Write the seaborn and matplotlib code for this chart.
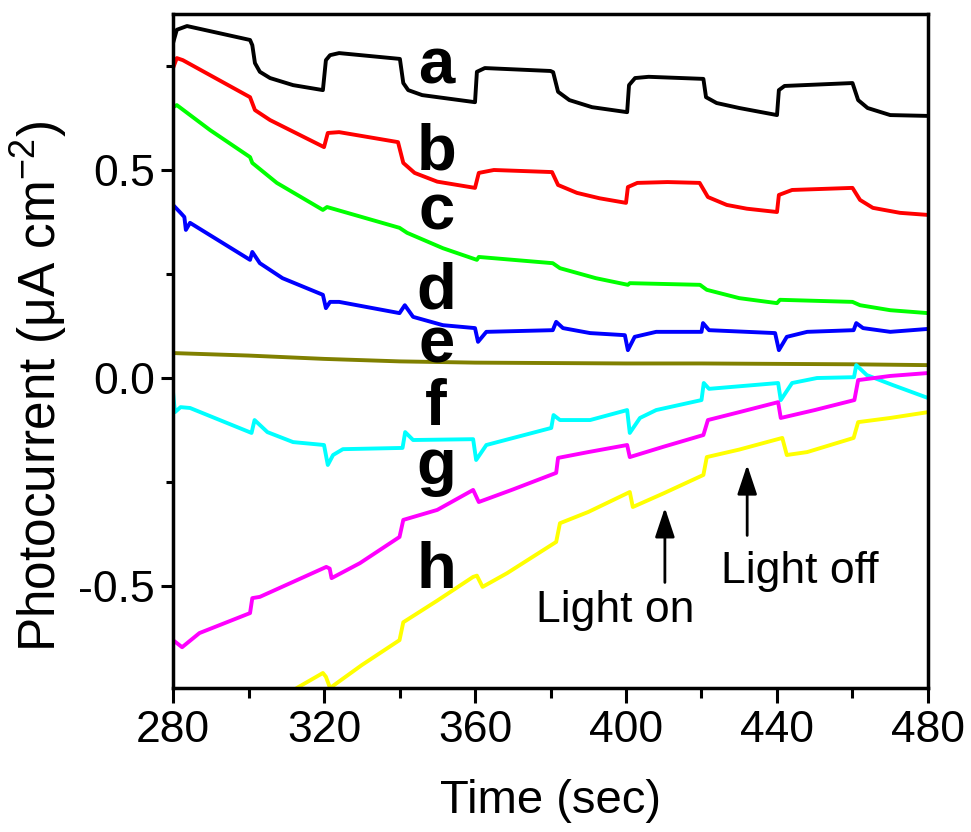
import matplotlib
matplotlib.use("Agg")
import matplotlib.pyplot as plt
from matplotlib.ticker import MultipleLocator
import seaborn as sns

# photocurrent transients, light chopped every 20 s
a_t = [280, 281, 283.7, 300.4, 301, 301.7, 303, 305.7, 311.8, 319.7, 320.5, 321.6, 324, 340.1, 341, 342.3, 346, 360,
       360.5, 362.6, 380, 380.7, 382, 385, 391, 400.3, 400.8, 402.4, 406, 420.5, 421.2, 424, 430, 440,
       440.5, 442, 460, 461.5, 464, 470, 480]
a_v = [0.805, 0.837, 0.846, 0.8125, 0.80, 0.757, 0.736, 0.721, 0.704, 0.692, 0.764, 0.776, 0.781, 0.767, 0.709, 0.692, 0.680, 0.663,
       0.736, 0.745, 0.738, 0.735, 0.688, 0.668, 0.651, 0.639, 0.704, 0.721, 0.724, 0.719, 0.675, 0.661, 0.649, 0.632,
       0.692, 0.702, 0.709, 0.668, 0.649, 0.632, 0.630]

b_t = [280, 281, 282.6, 300.4, 301.7, 305.7, 320, 321, 324, 339.6, 341, 344, 350, 360, 361, 365, 380.4, 382, 387, 393,
       400, 400.5, 403, 411, 419.5, 421.7, 426.7, 432, 440, 440.5, 444, 460, 462, 465.4, 472.6, 480]
b_v = [0.745, 0.769, 0.764, 0.675, 0.644, 0.620, 0.555, 0.589, 0.591, 0.567, 0.517, 0.493, 0.472, 0.457, 0.493, 0.5, 0.495, 0.464, 0.445, 0.432,
       0.421, 0.459, 0.469, 0.471, 0.469, 0.435, 0.416, 0.407, 0.399, 0.44, 0.452, 0.457, 0.428, 0.409, 0.397, 0.392]

c_t = [280, 281, 289.8, 300.4, 301, 307.5, 319.7, 320.8, 340, 342, 351.5, 360.5, 361, 380.6, 382.5, 392, 400.5, 401,
       419.6, 421.4, 430, 440, 440.8, 460, 462, 470, 480]
c_v = [0.651, 0.656, 0.596, 0.531, 0.517, 0.469, 0.404, 0.411, 0.361, 0.349, 0.312, 0.284, 0.291, 0.276, 0.264, 0.240, 0.224, 0.228,
       0.224, 0.212, 0.192, 0.180, 0.188, 0.183, 0.175, 0.163, 0.156]

d_t = [280, 282, 283, 283.4, 284.5, 300.4, 301, 303, 309, 319.7, 320.5, 321.6, 324, 340, 341.4, 343.6, 351.5, 360, 360.8, 363,
       380.6, 381.5, 383.3, 390.5, 399.7, 400.5, 402.3, 408, 420, 420.4, 422, 439.5, 440.5, 442.6, 448, 460.3, 461, 462.8, 470, 480]
d_v = [0.416, 0.397, 0.387, 0.356, 0.373, 0.284, 0.303, 0.276, 0.240, 0.20, 0.168, 0.183, 0.183, 0.156, 0.175, 0.147, 0.127, 0.120, 0.087, 0.111,
       0.115, 0.135, 0.120, 0.108, 0.103, 0.067, 0.099, 0.111, 0.111, 0.132, 0.115, 0.108, 0.067, 0.099, 0.111, 0.115, 0.132, 0.120, 0.111, 0.118]

e_t = [280, 300, 320, 340, 360, 380, 400, 420, 440, 460, 480]
e_v = [0.060, 0.054, 0.046, 0.040, 0.037, 0.036, 0.035, 0.035, 0.034, 0.033, 0.031]

f_t = [280, 280.5, 282, 284.5, 300.8, 301.6, 305, 311.8, 320, 321, 322.4, 325, 340.8, 341.5, 343.6, 359.5, 360.3, 363, 380.2, 380.8,
       382.5, 390.5, 400.3, 401, 403.7, 408, 420, 420.6, 422, 440.3, 441, 444, 450.6, 460.4, 461, 463.8, 470.7, 480]
f_v = [-0.034, -0.082, -0.070, -0.072, -0.132, -0.101, -0.130, -0.154, -0.161, -0.209, -0.185, -0.171, -0.168, -0.130, -0.149, -0.147, -0.197, -0.161, -0.120, -0.089,
       -0.101, -0.101, -0.077, -0.132, -0.096, -0.077, -0.053, -0.012, -0.026, -0.012, -0.053, -0.012, 0.0, 0.002, 0.031, 0.007, -0.017, -0.048]

g_t = [280, 282.4, 287, 300.4, 301, 303, 320.6, 321.5, 322, 329.5, 340, 341, 350, 359.5, 361, 370, 381.5, 382, 390, 400.3,
       401, 410, 420.5, 421.7, 430, 440.3, 441, 450, 460.5, 461.5, 470, 480]
g_v = [-0.630, -0.647, -0.613, -0.565, -0.529, -0.526, -0.454, -0.458, -0.481, -0.445, -0.382, -0.341, -0.317, -0.269, -0.298, -0.268, -0.228, -0.192, -0.178, -0.161,
       -0.190, -0.165, -0.137, -0.101, -0.082, -0.058, -0.096, -0.077, -0.053, -0.005, 0.005, 0.012]

h_t = [308, 312.8, 319.7, 320.5, 321.6, 330, 340, 341, 350, 359.5, 360.5, 362, 368.5, 381.5, 382.5, 390, 401, 401.8, 410, 420.5,
       421.4, 430, 441.4, 442.6, 448, 460.3, 461.5, 470, 480]
h_v = [-0.78, -0.745, -0.709, -0.718, -0.745, -0.690, -0.630, -0.587, -0.535, -0.478, -0.475, -0.502, -0.469, -0.394, -0.349, -0.322, -0.274, -0.310, -0.277, -0.233,
       -0.190, -0.172, -0.144, -0.185, -0.178, -0.144, -0.106, -0.096, -0.082]

names = ['a', 'b', 'c', 'd', 'e', 'f', 'g', 'h']
colors = ['black', '#ff0000', '#00ff00', '#0000ff', '#808000', '#00ffff', '#ff00ff', '#ffff00']
series = [(a_t, a_v), (b_t, b_v), (c_t, c_v), (d_t, d_v), (e_t, e_v), (f_t, f_v), (g_t, g_v), (h_t, h_v)]
# where the letters sit (baseline, in data units)
label_x = 349.7
label_y = [0.709, 0.50, 0.356, 0.168, 0.038, -0.113, -0.255, -0.505]

sns.set_style("ticks")
plt.rcParams['font.family'] = ['Liberation Sans', 'DejaVu Sans']
plt.rcParams['mathtext.fontset'] = 'custom'
plt.rcParams['mathtext.rm'] = 'Liberation Sans'
plt.rcParams['axes.unicode_minus'] = False
plt.rcParams['text.color'] = 'black'
plt.rcParams['axes.labelcolor'] = 'black'

fig = plt.figure(figsize=(9.71, 8.32), dpi=100)
ax = fig.add_axes([0.1782, 0.1731, 0.7775, 0.8101])

for (t, v), col in zip(series, colors):
    sns.lineplot(x=t, y=v, color=col, linewidth=2.8, sort=False, estimator=None, ax=ax)

for name, y in zip(names, label_y):
    ax.text(label_x, y, name, fontsize=47, fontweight='bold', color='black', ha='center', va='baseline')

# light on / off arrows
arrow = dict(arrowstyle='-|>,head_length=0.9,head_width=0.3', color='black', lw=2, mutation_scale=20)
ax.annotate('', xy=(410.3, -0.305), xytext=(410.3, -0.498), arrowprops=arrow)
ax.annotate('', xy=(432.1, -0.202), xytext=(432.1, -0.385), arrowprops=arrow)
ax.text(397.1, -0.587, 'Light on', fontsize=32, color='black', ha='center', va='baseline')
ax.text(446.1, -0.493, 'Light off', fontsize=32, color='black', ha='center', va='baseline')

ax.set_xlim(280, 480)
ax.set_ylim(-0.745, 0.875)
ax.xaxis.set_major_locator(MultipleLocator(40))
ax.xaxis.set_minor_locator(MultipleLocator(20))
ax.yaxis.set_major_locator(MultipleLocator(0.5))
ax.yaxis.set_minor_locator(MultipleLocator(0.25))
ax.tick_params(axis='both', which='both', direction='out', width=2.2, labelsize=32,
               colors='black', labelcolor='black')
ax.tick_params(axis='x', which='major', length=11, pad=5)
ax.tick_params(axis='x', which='minor', length=7)
ax.tick_params(axis='y', which='major', length=9, pad=4)
ax.tick_params(axis='y', which='minor', length=5)
for sp in ax.spines.values():
    sp.set_linewidth(2.5)
    sp.set_color('black')

ax.set_xlabel('Time (sec)', fontsize=34, color='black')
ax.set_ylabel('Photocurrent (μA cm$^{-2}$)', fontsize=37, color='black')
ax.xaxis.set_label_coords(0.5, -0.135)
ax.yaxis.set_label_coords(-0.138, 0.447)

fig.savefig('out.png', dpi=100)
